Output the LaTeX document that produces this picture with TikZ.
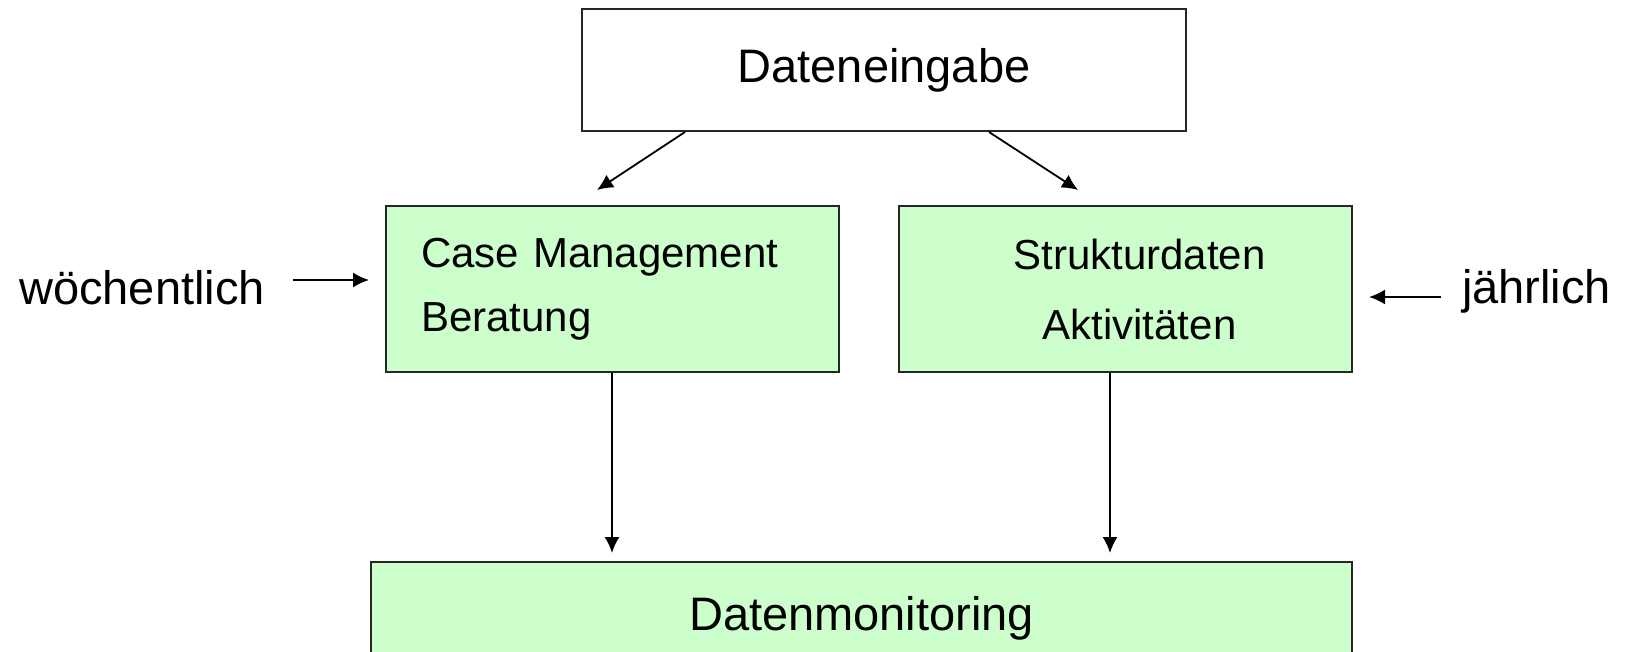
\documentclass[tikz,border=0pt]{standalone}
\usepackage{fontspec}
\setmainfont{Liberation Sans}
\usetikzlibrary{arrows.meta,calc}
\definecolor{boxgreen}{HTML}{CCFFCC}
\begin{document}
\begin{tikzpicture}[x=1pt,y=-1pt,
  box/.style={draw=black!85,line width=2pt,rectangle,inner sep=0pt,anchor=north west},
  gbox/.style={box,fill=boxgreen},
  conn/.style={line width=1.8pt,-{Latex[length=16pt,width=15pt]}},
  big/.style={font=\fontsize{47}{56}\selectfont},
  mid/.style={font=\fontsize{42}{50}\selectfont}]
\clip (0,0) rectangle (1626,652);
\fill[white] (0,0) rectangle (1626,652);
\node[box,fill=white,big,minimum width=604pt,minimum height=122pt] (de) at (581,8) {Dateneingabe};
\node[gbox,minimum width=453pt,minimum height=166pt,text width=383pt,align=left,inner xsep=35pt,
  font=\fontsize{42}{64}\selectfont] (cm) at (385,205) {Case Management\\Beratung};
\node[gbox,minimum width=453pt,minimum height=166pt] (sd) at (898,205) {};
\node[align=center,inner sep=0pt,font=\fontsize{42}{70}\selectfont] (sdt) at ($(sd.center)+(14,0)$) {Strukturdaten\\Aktivitäten};
\node[gbox,big,minimum width=981pt,minimum height=112pt] (dm) at (370,561) {Datenmonitoring};
\node[big,anchor=west,inner sep=0pt] (wo) at (19,288) {wöchentlich};
\node[big,anchor=west,inner sep=0pt] (ja) at (1462,291) {jährlich};
% connector end points
\coordinate (l1) at (685,130);
\coordinate (l2) at (597,190);
\coordinate (r1) at (989,130);
\coordinate (r2) at (1078,190);
\coordinate (w1) at (293,280);
\coordinate (w2) at (369,280);
\coordinate (j1) at (1441,297);
\coordinate (j2) at (1369,297);
\draw[conn] (de.south -| l1) -- (l2);
\draw[conn] (de.south -| r1) -- (r2);
\draw[conn,shorten >=8pt] (cm.south -| 612,0) -- (dm.north -| 612,0);
\draw[conn,shorten >=8pt] (sd.south -| 1110,0) -- (dm.north -| 1110,0);
\draw[conn] (w1) -- (w2);
\draw[conn] (j1) -- (j2);
\end{tikzpicture}
\end{document}
